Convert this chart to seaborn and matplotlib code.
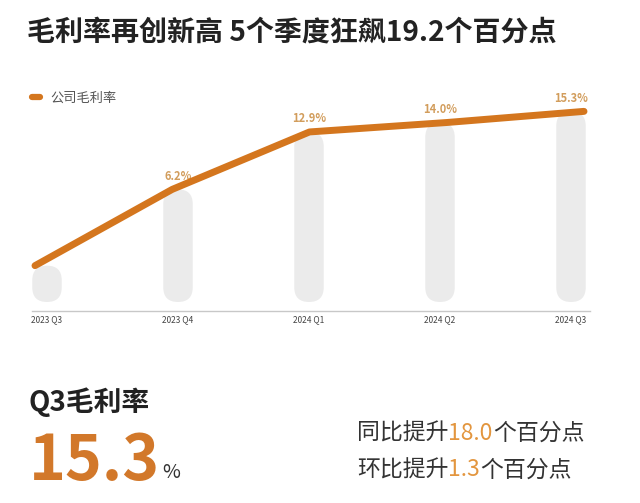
import matplotlib
matplotlib.use("Agg")
import matplotlib.pyplot as plt
import seaborn as sns
import pandas as pd
from matplotlib.patches import FancyBboxPatch, BoxStyle
from matplotlib.lines import Line2D
from matplotlib.text import Annotation

# ---------------- data ----------------
quarters = ["2023 Q3", "2023 Q4", "2024 Q1", "2024 Q2", "2024 Q3"]
margin = [-2.7, 6.2, 12.9, 14.0, 15.3]
value_labels = ["", "6.2%", "12.9%", "14.0%", "15.3%"]
title = "毛利率再创新高 5个季度狂飙19.2个百分点"
legend_label = "公司毛利率"
kpi_title = "Q3毛利率"
kpi_value = "15.3"
kpi_unit = "%"
yoy_parts = ["同比提升", "18.0", "个百分点"]
qoq_parts = ["环比提升", "1.3", "个百分点"]

# ---------------- style ----------------
sns.set_theme(style="white")
plt.rcParams['font.family'] = ['Noto Sans CJK SC', 'DejaVu Sans']

ORANGE = "#D4761E"
LABEL_ORANGE = "#D29D5C"
BIG_ORANGE = "#D2782A"
NUM_ORANGE = "#E3963F"
BAR_GRAY = "#EBEBEB"
DARK = "#222222"
TEXT = "#333333"

W, H = 640, 503
fig = plt.figure(figsize=(W / 100, H / 100), dpi=100)
fig.patch.set_facecolor("white")


def rect(x0, y0, x1, y1):
    return [x0 / W, 1 - y1 / H, (x1 - x0) / W, (y1 - y0) / H]


df = pd.DataFrame({"quarter": quarters, "margin": margin})

YLIM = (-7.99, 18.96)
BAR_BASE = -6.94

# ---------------- bars (background capsules) ----------------
ax = fig.add_axes(rect(32, 80, 590, 311))
sns.barplot(data=df, x="quarter", y="margin", color=BAR_GRAY, width=0.225,
            saturation=1, errorbar=None, ax=ax)
ax.set_xlim(-0.1145, 4.145)
ax.set_ylim(*YLIM)

bb = ax.get_window_extent()
xpp = (ax.get_xlim()[1] - ax.get_xlim()[0]) / bb.width
ypp = (YLIM[1] - YLIM[0]) / bb.height
asp = ypp / xpp
for p, v in zip(list(ax.patches), margin):
    x, w = p.get_x(), p.get_width()
    p.remove()
    ax.add_patch(FancyBboxPatch((x, BAR_BASE), w, v - BAR_BASE,
                                boxstyle=BoxStyle.Round(pad=0, rounding_size=w / 2),
                                mutation_aspect=asp, facecolor=BAR_GRAY,
                                edgecolor="none", zorder=1))

for i, (v, lab) in enumerate(zip(margin, value_labels)):
    if lab:
        ax.annotate(lab, (i, v), xytext=(0, 9.5), textcoords="offset points",
                    ha="center", va="center", fontsize=8, color=LABEL_ORANGE,
                    weight="bold")

ax.set_xticks(range(len(quarters)))
ax.set_xticklabels(quarters, fontsize=6, color="#444444")
ax.tick_params(axis="x", length=0, pad=3)
ax.set_yticks([])
ax.set_xlabel("")
ax.set_ylabel("")
for s in ["top", "right", "left"]:
    ax.spines[s].set_visible(False)
ax.spines["bottom"].set_color("#C8C8C8")
ax.spines["bottom"].set_linewidth(1)
ax.set_facecolor("none")

# ---------------- line ----------------
ax2 = fig.add_axes(rect(35, 80, 584, 311))
ax2.patch.set_alpha(0)
sns.lineplot(data=df, x="quarter", y="margin", sort=False, color=ORANGE,
             lw=5, ax=ax2)
for ln in ax2.lines:
    ln.set_solid_capstyle("round")
    ln.set_solid_joinstyle("round")
    ln.set_clip_on(False)
ax2.set_xlim(0, len(quarters) - 1)
ax2.set_ylim(*YLIM)
ax2.axis("off")

# ---------------- legend ----------------
handle = Line2D([], [], color=ORANGE, lw=4.5, solid_capstyle="round")
fig.legend([handle], [legend_label], loc="center left",
           bbox_to_anchor=(32 / W, 1 - 98 / H), frameon=False, fontsize=9.5,
           handlelength=0.6, handletextpad=0.8, borderpad=0, borderaxespad=0,
           labelcolor="#555555")

# ---------------- texts ----------------
fig.text(27 / W, 1 - 33 / H, title, fontsize=20.2, weight="bold", color=DARK,
         va="center", ha="left")
fig.text(29 / W, 1 - 402 / H, kpi_title, fontsize=20, weight="bold", color=DARK,
         va="center", ha="left")
fig.text(29 / W, 1 - 480 / H, kpi_value, fontsize=45, weight="bold",
         color=BIG_ORANGE, va="baseline", ha="left")
fig.text(162 / W, 1 - 478 / H, kpi_unit, fontsize=14, color=TEXT,
         va="baseline", ha="left")


def colored_line(x_px, y_px, parts, colors, size):
    prev = fig.text(x_px / W, 1 - y_px / H, parts[0], fontsize=size,
                    color=colors[0], va="center", ha="left")
    for part, c in zip(parts[1:], colors[1:]):
        a = Annotation(part, xy=(1, 0), xycoords=prev, xytext=(0, 0),
                       textcoords="offset points", va="bottom", ha="left",
                       fontsize=size, color=c)
        fig.add_artist(a)
        prev = a


colored_line(357, 433, yoy_parts, [TEXT, NUM_ORANGE, TEXT], 16.5)
colored_line(357, 470, qoq_parts, [TEXT, NUM_ORANGE, TEXT], 16.5)

fig.savefig("out.png", dpi=100, facecolor="white")
